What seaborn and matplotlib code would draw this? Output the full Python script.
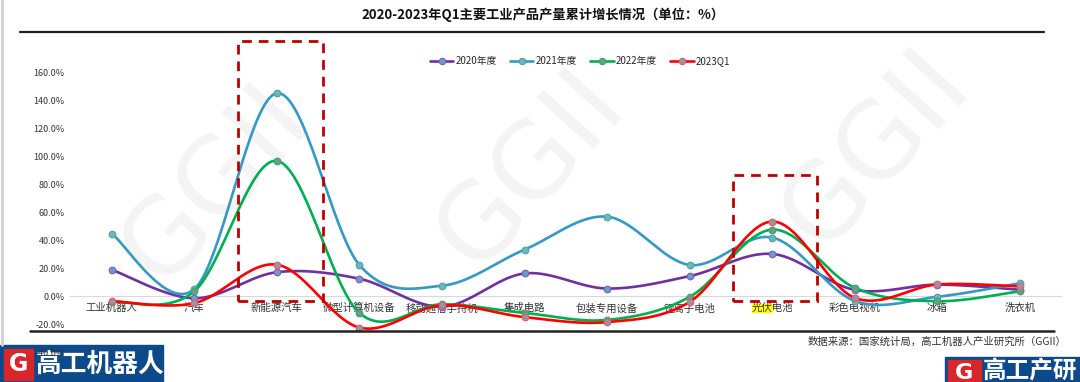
import numpy as np
import matplotlib
matplotlib.use("Agg")
import matplotlib.pyplot as plt
import matplotlib.patches as patches
from matplotlib.lines import Line2D
from matplotlib.transforms import IdentityTransform
import seaborn as sns

# Data (%)
categories = ["工业机器人", "汽车", "新能源汽车", "微型计算机设备", "移动通信手持机", "集成电路",
              "包装专用设备", "锂离子电池", "光伏电池", "彩色电视机", "冰箱", "洗衣机"]
growth_2020 = [19.0, -1.5, 17.2, 12.5, -7.5, 16.3, 5.5, 14.4, 30.3, 4.5, 8.3, 4.6]
growth_2021 = [44.8, 5.0, 145.5, 22.4, 7.5, 33.4, 57.0, 22.4, 42.0, -3.4, -0.4, 9.3]
growth_2022 = [-4.0, 3.5, 97.0, -12.0, -5.8, -12.0, -17.0, -0.5, 47.7, 6.0, -3.6, 3.6]
growth_2023q1 = [-3.5, -5.0, 22.6, -22.5, -6.5, -15.0, -18.6, -4.1, 53.5, -1.2, 8.4, 7.0]
series_names = ["2020年度", "2021年度", "2022年度", "2023Q1"]

sns.set_theme(style="white")
plt.rcParams['font.family'] = ['Noto Sans CJK SC', 'DejaVu Sans']
plt.rcParams['axes.unicode_minus'] = False


def smooth(x, y, n=40):
    # Excel-like smoothed line (Catmull-Rom as cubic Bezier)
    pts = np.column_stack([x, y]).astype(float)
    P = np.vstack([pts[0], pts, pts[-1]])
    out = []
    t = np.linspace(0, 1, n, endpoint=False)[:, None]
    for i in range(1, len(P) - 2):
        p0, p1, p2, p3 = P[i - 1], P[i], P[i + 1], P[i + 2]
        c1 = p1 + (p2 - p0) / 6
        c2 = p2 - (p3 - p1) / 6
        out.append((1 - t) ** 3 * p1 + 3 * (1 - t) ** 2 * t * c1
                   + 3 * (1 - t) * t ** 2 * c2 + t ** 3 * p2)
    out.append(pts[-1:])
    return np.vstack(out)


W, H = 1080, 382
fig = plt.figure(figsize=(W / 100, H / 100), dpi=100)
ax = fig.add_axes([70.4 / W, 1 - 352 / H, (1061.3 - 70.4) / W, (352 - 73) / H])
ax.set_facecolor("none")

# watermarks
for wx, wy in [(215, 185), (530, 170), (875, 150)]:
    fig.text(wx / W, 1 - wy / H, "GGII", fontsize=76, color="#f4f4f4",
             rotation=48, ha="center", va="center", family="DejaVu Sans",
             zorder=-2)

styles = [
    ("#7030a0", "#5fa3c9", "#8a5cb8"),
    ("#3399c6", "#74b8a6", "#4aa3c8"),
    ("#00b050", "#6c9c86", "#3aa86a"),
    ("#ff0000", "#8a9aa6", "#f05a6a"),
]
xs = np.arange(len(categories))
handles = []
for k, vals in enumerate([growth_2020, growth_2021, growth_2022, growth_2023q1]):
    lc, mfc, mec = styles[k]
    curve = smooth(xs, vals)
    sns.lineplot(x=curve[:, 0], y=curve[:, 1], sort=False, estimator=None,
                 color=lc, lw=1.9, ax=ax, zorder=3 + k)
    sns.scatterplot(x=xs, y=vals, s=22, color=mfc, edgecolor=mec,
                    linewidth=0.9, ax=ax, zorder=3.5 + k)
    handles.append(Line2D([], [], color=lc, lw=1.9, marker="o", markersize=4.5,
                          markerfacecolor=mfc, markeredgecolor=mec, markeredgewidth=0.9))

ax.set_xlim(-0.5, 11.5)
ax.set_ylim(-40, 160)
ax.set_yticks(np.arange(-40, 161, 20))
ax.set_yticklabels([f"{v:.1f}%" for v in np.arange(-40, 161, 20)])
ax.set_xticks(xs)
ax.set_xticklabels(categories)
ax.tick_params(axis="both", length=0, colors="#333333")
ax.tick_params(axis="y", labelsize=6.5, pad=4)
ax.tick_params(axis="x", labelsize=7.5, pad=5)
for s in ["left", "right", "top"]:
    ax.spines[s].set_visible(False)
ax.spines["bottom"].set_position(("data", 0))
ax.spines["bottom"].set_color("#d9d9d9")
ax.spines["bottom"].set_linewidth(0.8)
ax.grid(False)

# dashed highlight boxes
for x0, x1, y0, y1 in [(1.53, 2.56, -3.6, 183.0), (7.52, 8.54, -3.6, 86.8)]:
    ax.add_patch(patches.Rectangle((x0, y0), x1 - x0, y1 - y0, fill=False,
                                   edgecolor="#c00000", lw=2.0, ls=(0, (3.5, 2.5)),
                                   clip_on=False, zorder=10))

leg = ax.legend(handles, series_names, loc="center", ncol=4, frameon=False,
                fontsize=7, handlelength=2.4, handletextpad=0.2, columnspacing=1.4,
                bbox_to_anchor=(580 / W, 1 - 61 / H), bbox_transform=fig.transFigure)

fig.text(543 / W, 1 - 15 / H, "2020-2023年Q1主要工业产品产量累计增长情况（单位：%）",
         ha="center", va="center", fontsize=9.5, fontweight="bold", color="#111111")
fig.add_artist(Line2D([20 / W, 1044 / W], [1 - 32 / H] * 2, color="#222222", lw=1.6))
fig.add_artist(Line2D([30 / W, 1054 / W], [1 - 331 / H] * 2, color="#222222", lw=1.8))
fig.add_artist(Line2D([2 / W, 2 / W], [1 - 345 / H, 1], color="#d0d0d0", lw=2))
fig.text(1066 / W, 1 - 342 / H, "数据来源：国家统计局，高工机器人产业研究所（GGII）",
         ha="right", va="center", fontsize=7.5, color="#333333")

# highlight on "光伏"
fig.canvas.draw()
lab = ax.get_xticklabels()[8]
bb = lab.get_window_extent()
ax.add_patch(patches.Rectangle((bb.x0, bb.y0 + 1), bb.width / 2, bb.height - 2,
                               transform=IdentityTransform(), color="#ffff00",
                               clip_on=False, zorder=0.5))

# logos
fig.add_artist(patches.Rectangle((0, 0), 163 / W, 37 / H, transform=fig.transFigure,
                                 color="#0d4a8c", zorder=-1))
fig.add_artist(patches.Rectangle((4 / W, 2 / H), 29 / W, 31 / H, transform=fig.transFigure,
                                 color="#d9262b", zorder=-1))
fig.text(18.5 / W, 18 / H, "G", color="white", fontsize=17, fontweight="bold",
         ha="center", va="center", family="DejaVu Sans", zorder=-1)
fig.text(36 / W, 18 / H, "高工机器人", color="white", fontsize=18.5, fontweight="bold",
         ha="left", va="center", zorder=-1)
fig.add_artist(patches.Rectangle((945 / W, 0), 135 / W, 25 / H, transform=fig.transFigure,
                                 color="#0d4a8c", zorder=-1))
fig.add_artist(patches.Rectangle((948 / W, 0), 33 / W, 22 / H, transform=fig.transFigure,
                                 color="#d9262b", zorder=-1))
fig.text(964.5 / W, 9 / H, "G", color="white", fontsize=16, fontweight="bold",
         ha="center", va="center", family="DejaVu Sans", zorder=-1)
fig.text(983 / W, 1 - 359 / H, "高工产研", color="white", fontsize=17, fontweight="bold",
         ha="left", va="top", zorder=-1)

fig.savefig("out.png", dpi=100)
